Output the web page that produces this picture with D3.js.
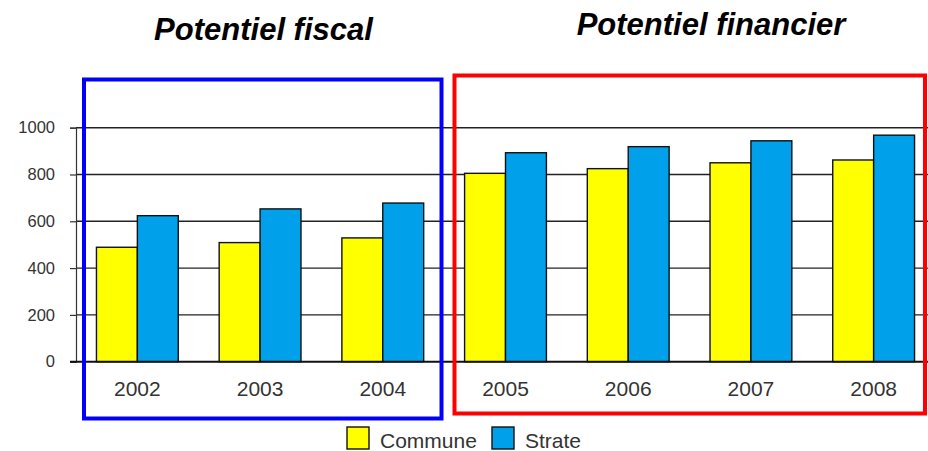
<!DOCTYPE html>
<html>
<head>
<meta charset="utf-8">
<script src="https://cdn.jsdelivr.net/npm/d3@7"></script>
<style>
  html, body { margin: 0; padding: 0; background: #fff; }
  svg { display: block; font-family: "Liberation Sans", Arial, sans-serif; }
</style>
</head>
<body>
<svg id="chart" width="928" height="451"></svg>
<script>
// Potentiel fiscal (2002-2004) puis potentiel financier (2005-2008), en euros par habitant
const years = ["2002", "2003", "2004", "2005", "2006", "2007", "2008"];
const communeValues = [489, 509, 529, 805, 825, 850, 862];
const strateValues = [624, 653, 678, 893, 919, 944, 968];
const seriesNames = ["Commune", "Strate"];
const seriesColors = ["#ffff00", "#00a0ea"];
const yTicks = [0, 200, 400, 600, 800, 1000];
const titles = ["Potentiel fiscal", "Potentiel financier"];
const fiscalYears = ["2002", "2003", "2004"];
const financierYears = ["2005", "2006", "2007", "2008"];

const svg = d3.select("#chart");

const plot = { left: 76, right: 935, top: 127.7, bottom: 361.7 };

const x = d3.scaleBand()
  .domain(years)
  .range([plot.left, plot.right])
  .paddingInner(1 / 3)
  .paddingOuter(1 / 6);

const xSub = d3.scaleBand()
  .domain(seriesNames)
  .range([0, x.bandwidth()])
  .padding(0);

const y = d3.scaleLinear()
  .domain([0, 1000])
  .range([plot.bottom, plot.top]);

const rows = years.map((yr, i) => ({
  year: yr,
  values: [communeValues[i], strateValues[i]]
}));

// horizontal gridlines
svg.append("g")
  .selectAll("line")
  .data(yTicks.filter(d => d > 0))
  .join("line")
  .attr("x1", plot.left)
  .attr("x2", plot.right)
  .attr("y1", d => y(d))
  .attr("y2", d => y(d))
  .attr("stroke", "#222")
  .attr("stroke-width", 1.4);

// bars
const groups = svg.append("g")
  .selectAll("g")
  .data(rows)
  .join("g")
  .attr("transform", d => `translate(${x(d.year)},0)`);

groups.selectAll("rect")
  .data(d => d.values.map((v, i) => ({ key: seriesNames[i], value: v, color: seriesColors[i] })))
  .join("rect")
  .attr("x", d => xSub(d.key))
  .attr("width", xSub.bandwidth())
  .attr("y", d => y(d.value))
  .attr("height", d => y(0) - y(d.value))
  .attr("fill", d => d.color)
  .attr("stroke", "#111")
  .attr("stroke-width", 1.4);

// y axis
const yAxis = svg.append("g")
  .attr("transform", `translate(${plot.left},0)`)
  .call(d3.axisLeft(y).tickValues(yTicks).tickSize(6).tickPadding(15).tickFormat(d3.format("d")));
yAxis.select(".domain").attr("stroke", "#333").attr("stroke-width", 1.2);
yAxis.selectAll(".tick line").attr("stroke", "#333").attr("stroke-width", 1.2);
yAxis.selectAll(".tick text")
  .attr("fill", "#333")
  .style("font-size", "16.5px")
  .style("font-family", "'Liberation Sans', Arial, sans-serif");

// baseline
svg.append("line")
  .attr("x1", plot.left - 6)
  .attr("x2", plot.right)
  .attr("y1", y(0))
  .attr("y2", y(0))
  .attr("stroke", "#111")
  .attr("stroke-width", 2);

// x axis labels
svg.append("g")
  .selectAll("text")
  .data(years)
  .join("text")
  .attr("x", d => x(d) + x.bandwidth() / 2)
  .attr("y", 396)
  .attr("text-anchor", "middle")
  .attr("fill", "#333")
  .style("font-size", "21px")
  .text(d => d);

// frames around the two periods
const frames = [
  { years: fiscalYears, color: "#0000ff", x0: 84, x1: 441.5, y0: 79.5, y1: 418.5 },
  { years: financierYears, color: "#ff0000", x0: 454.5, x1: 925, y0: 75.5, y1: 413.5 }
];
svg.append("g")
  .selectAll("rect")
  .data(frames)
  .join("rect")
  .attr("x", d => d.x0)
  .attr("y", d => d.y0)
  .attr("width", d => d.x1 - d.x0)
  .attr("height", d => d.y1 - d.y0)
  .attr("fill", "none")
  .attr("stroke", d => d.color)
  .attr("stroke-width", 4);

// titles
svg.append("g")
  .selectAll("text")
  .data([
    { text: titles[0], cx: 263.5, by: 39.5 },
    { text: titles[1], cx: 711, by: 35 }
  ])
  .join("text")
  .attr("x", d => d.cx)
  .attr("y", d => d.by)
  .attr("text-anchor", "middle")
  .style("font-size", "31px")
  .style("font-weight", "bold")
  .style("font-style", "italic")
  .attr("fill", "#000")
  .text(d => d.text);

// legend
const legend = svg.append("g");
const legendItems = [
  { name: seriesNames[0], color: seriesColors[0], sx: 347, tx: 380 },
  { name: seriesNames[1], color: seriesColors[1], sx: 492, tx: 525 }
];
legend.selectAll("rect")
  .data(legendItems)
  .join("rect")
  .attr("x", d => d.sx)
  .attr("y", 427)
  .attr("width", 22)
  .attr("height", 22)
  .attr("fill", d => d.color)
  .attr("stroke", "#111")
  .attr("stroke-width", 1.4);
legend.selectAll("text")
  .data(legendItems)
  .join("text")
  .attr("x", d => d.tx)
  .attr("y", 448)
  .attr("fill", "#333")
  .style("font-size", "21px")
  .text(d => d.name);
</script>
</body>
</html>
